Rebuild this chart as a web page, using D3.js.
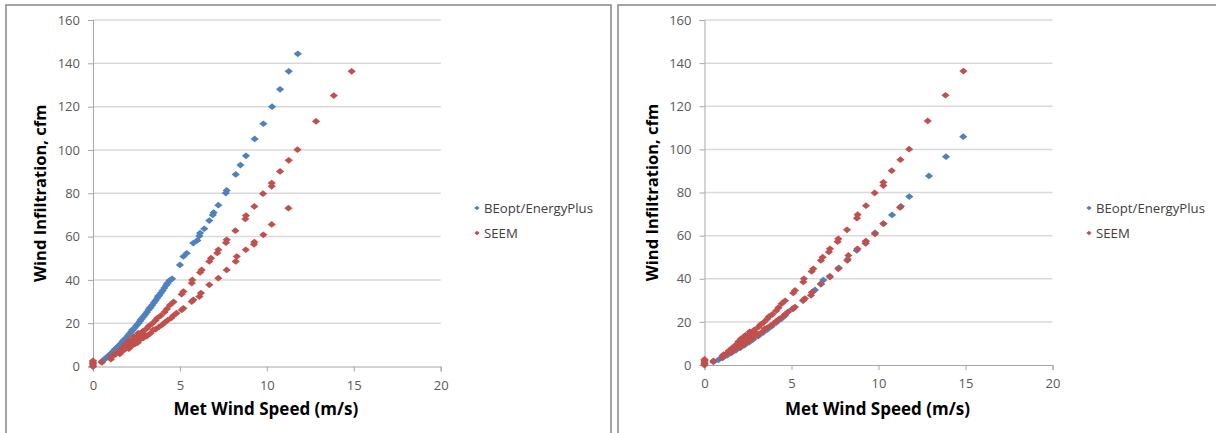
<!DOCTYPE html>
<html>
<head>
<meta charset="utf-8">
<script src="https://cdn.jsdelivr.net/npm/d3@7"></script>
<style>
  html, body { margin: 0; padding: 0; background: #ffffff; }
  svg { display: block; }
</style>
</head>
<body>
<svg id="chart" width="1216" height="433"></svg>
<script>
// ---- tick labels / axis domains ----
const xTicks = [0, 5, 10, 15, 20];
const yTicks = [0, 20, 40, 60, 80, 100, 120, 140, 160];
const seriesNames = ["BEopt/EnergyPlus", "SEEM"];
const xTitle = "Met Wind Speed (m/s)";
const yTitle = "Wind Infiltration, cfm";

// ---- SEEM (same in both panels) ----
const seemSpeed = [0, 0, 0, 0, 0, 0.51,
  1.03, 1.03, 1.1, 1.3, 1.4, 1.54, 1.54, 1.6, 1.7, 1.8, 1.85, 1.95, 2.0,
  2.06, 2.06, 2.1, 2.2, 2.25, 2.3, 2.35, 2.45, 2.5, 2.57, 2.57, 2.6,
  2.7, 2.75, 2.85, 2.9, 3.0, 3.09, 3.09, 3.2, 3.3, 3.4, 3.47,
  3.6, 3.6, 3.7, 3.8, 3.9, 4.0, 4.12, 4.12, 4.25, 4.3,
  4.43, 4.5, 4.63, 4.63, 4.8,
  5.1, 5.2, 5.1, 5.2, 5.68, 5.71, 5.68, 5.77, 6.16, 6.25, 6.12, 6.21,
  6.69, 6.79, 6.69, 7.15, 7.21, 7.21, 7.65, 7.69, 7.69,
  8.19, 8.21, 8.27, 8.76, 8.80, 8.79, 9.28, 9.26, 9.28, 9.78, 9.80,
  10.28, 10.28, 10.28, 10.76, 11.26, 11.24, 11.76, 12.83, 13.85, 14.88];
const seemFlow = [0, 0.7, 1.4, 2.1, 2.6, 1.9,
  4.2, 3.4, 4.8, 5.6, 6.6, 7.3, 5.8, 8.0, 7.1, 9.3, 8.1, 10.9, 9.0,
  10.4, 8.2, 12.2, 11.0, 9.6, 12.6, 13.8, 10.6, 12.8, 14.0, 11.0, 15.4,
  12.4, 15.0, 16.2, 13.2, 14.6, 17.5, 14.0, 18.6, 15.3, 19.8, 16.9,
  21.3, 17.2, 22.4, 18.3, 23.5, 19.4, 25.2, 20.3, 26.6, 21.4,
  28.4, 22.4, 29.8, 23.5, 24.6,
  33.4, 34.6, 26.1, 26.9, 38.5, 40.0, 30.0, 30.8, 43.4, 44.6, 32.3, 33.9,
  48.5, 50.0, 37.7, 52.4, 53.9, 40.8, 57.2, 58.5, 44.6,
  62.7, 48.5, 50.8, 68.1, 69.7, 53.9, 73.9, 56.4, 57.5, 79.8, 60.8,
  83.2, 84.7, 65.6, 90.1, 95.2, 73.1, 100.1, 113.2, 125.1, 136.3];

// ---- BEopt/EnergyPlus, left panel ----
const beoptLeftSpeed = [0, 0.5, 0.6, 0.7, 0.8, 0.9, 1.0, 1.1, 1.2, 1.25, 1.3, 1.4, 1.5, 1.6,
  1.7, 1.75, 1.8, 1.9, 2.0, 2.1, 2.2, 2.25, 2.3, 2.4, 2.5, 2.6, 2.7, 2.75, 2.8, 2.9,
  3.0, 3.1, 3.2, 3.25, 3.3, 3.4, 3.5, 3.6, 3.7, 3.75, 3.8, 3.9, 4.0, 4.1, 4.2, 4.25,
  4.3, 4.4, 4.55,
  5.0, 5.2, 5.39, 5.77, 6.0, 6.12, 6.16, 6.40, 6.69, 6.89, 6.94, 7.21, 7.64, 7.69,
  8.21, 8.48, 8.80, 9.30, 9.80, 10.30, 10.76, 11.26, 11.78];
const beoptLeftFlow = [0, 2.3, 2.9, 3.6, 4.3, 5.0, 5.7, 6.5, 7.2, 7.9, 8.0, 8.9, 9.7, 10.5,
  11.4, 12.0, 12.3, 13.2, 14.1, 15.1, 16.0, 16.8, 17.0, 17.9, 18.9, 19.9, 20.9, 21.6, 22.0, 23.0,
  24.0, 25.1, 26.2, 26.9, 27.2, 28.3, 29.4, 30.5, 31.6, 32.4, 32.8, 33.9, 35.0, 36.2, 37.4, 38.1,
  38.5, 39.7, 40.5,
  46.9, 50.8, 52.3, 57.0, 58.2, 60.3, 61.6, 63.6, 67.4, 70.0, 71.1, 74.5, 80.1, 81.3,
  88.7, 93.0, 97.3, 105.1, 112.1, 120.0, 128.0, 136.3, 144.4];

// ---- BEopt/EnergyPlus, right panel ----
const beoptRightSpeed = [0, 0.51, 0.8, 1.03, 1.3, 1.54, 1.8, 2.06, 2.3, 2.57, 2.8, 3.09, 3.35,
  3.6, 3.85, 4.12, 4.4, 4.63, 5.05, 5.66, 6.17, 6.35, 6.69, 6.83, 7.2, 7.72, 8.23, 8.75,
  9.26, 9.8, 10.29, 10.78, 11.29, 11.77, 12.9, 13.88, 14.87];
const beoptRightFlow = [0, 1.4, 2.4, 3.3, 4.4, 5.6, 6.8, 8.0, 9.2, 10.6, 11.9, 13.4, 14.9,
  16.4, 17.9, 19.6, 21.3, 22.9, 26.0, 29.9, 33.6, 34.8, 37.4, 39.4, 41.2, 45.1, 49.1, 53.1,
  57.2, 61.3, 65.5, 69.6, 73.6, 78.1, 87.7, 96.6, 105.9];

const colors = ["#4F81BD", "#C0504D"];

const panels = [
  { frame: [6, 5, 605, 440], x0: 93, x1: 440.7, yBottom: 366.5, yTop: 20,
    blue: [beoptLeftSpeed, beoptLeftFlow], legendX: 477 },
  { frame: [618, 5, 620, 440], x0: 704.5, x1: 1052.5, yBottom: 365, yTop: 20,
    blue: [beoptRightSpeed, beoptRightFlow], legendX: 1089 }
];

// Excel-style diamond (slightly wider than tall)
const excelDiamond = {
  draw(context, size) {
    const w = Math.sqrt(size) * 0.54, h = Math.sqrt(size) * 0.44;
    context.moveTo(0, -h); context.lineTo(w, 0); context.lineTo(0, h); context.lineTo(-w, 0); context.closePath();
  }
};

const svg = d3.select("#chart");
const FONT = "'Open Sans', 'Liberation Sans', sans-serif";

panels.forEach(p => {
  const g = svg.append("g");
  // frame
  g.append("rect")
    .attr("x", p.frame[0]).attr("y", p.frame[1])
    .attr("width", p.frame[2]).attr("height", p.frame[3])
    .attr("fill", "#fff").attr("stroke", "#868686").attr("stroke-width", 1.5);

  const x = d3.scaleLinear().domain([xTicks[0], xTicks[xTicks.length - 1]]).range([p.x0, p.x1]);
  const y = d3.scaleLinear().domain([yTicks[0], yTicks[yTicks.length - 1]]).range([p.yBottom, p.yTop]);

  // gridlines
  g.append("g").selectAll("line").data(yTicks.slice(1)).join("line")
    .attr("x1", p.x0).attr("x2", p.x1)
    .attr("y1", d => y(d)).attr("y2", d => y(d))
    .attr("stroke", "#d9d9d9").attr("stroke-width", 1.5);

  // y axis
  const yAxis = g.append("g").attr("transform", `translate(${p.x0},0)`)
    .call(d3.axisLeft(y).tickValues(yTicks).tickSize(5).tickPadding(8));
  // x axis
  const xAxis = g.append("g").attr("transform", `translate(0,${p.yBottom})`)
    .call(d3.axisBottom(x).tickValues(xTicks).tickSize(5).tickPadding(9));
  [yAxis, xAxis].forEach(a => {
    a.select(".domain").attr("stroke", "#a6a6a6").attr("stroke-width", 1);
    a.selectAll(".tick line").attr("stroke", "#a6a6a6");
    a.selectAll("text").attr("fill", "#595959").style("font-family", FONT).style("font-size", "13px");
  });

  const marker = d3.symbol().type(excelDiamond).size(58);

  // series: blue first, red on top
  const blueData = p.blue[0].map((v, i) => [v, p.blue[1][i]]);
  const redData = seemSpeed.map((v, i) => [v, seemFlow[i]]);
  [[blueData, colors[0]], [redData, colors[1]]].forEach(([data, col]) => {
    g.append("g").selectAll("path").data(data).join("path")
      .attr("transform", d => `translate(${x(d[0])},${y(d[1])})`)
      .attr("d", marker).attr("fill", col);
  });

  // axis titles
  g.append("text")
    .attr("x", (p.x0 + p.x1) / 2 - 1).attr("y", 415)
    .attr("text-anchor", "middle")
    .style("font-family", FONT).style("font-size", "17px").style("font-weight", "bold")
    .attr("fill", "#000").text(xTitle);
  g.append("text")
    .attr("transform", `translate(${p.x0 - 47},${(p.yBottom + p.yTop) / 2}) rotate(-90)`)
    .attr("text-anchor", "middle")
    .style("font-family", FONT).style("font-size", "16.5px").style("font-weight", "bold")
    .attr("fill", "#000").text(yTitle);

  // legend
  const legMarker = d3.symbol().type(excelDiamond).size(24);
  seriesNames.forEach((name, i) => {
    const ly = 208 + i * 25;
    g.append("path").attr("transform", `translate(${p.legendX},${ly})`)
      .attr("d", legMarker).attr("fill", colors[i]);
    g.append("text").attr("x", p.legendX + 7).attr("y", ly + 4.5)
      .style("font-family", FONT).style("font-size", "13.2px")
      .attr("fill", "#404040").text(name);
  });
});
</script>
</body>
</html>
